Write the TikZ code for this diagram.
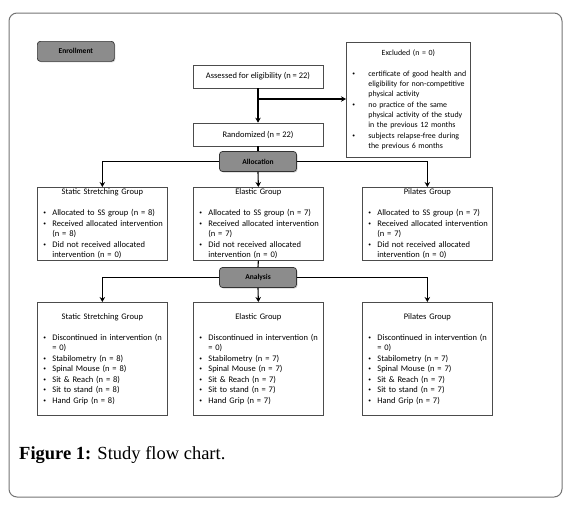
\documentclass[tikz,border=0pt]{standalone}
\usepackage{fontspec}
\setmainfont{Carlito}
\newfontfamily\capfont{Liberation Serif}
\usetikzlibrary{arrows.meta,shadows}

\newcommand\dotb{\raisebox{0.25ex}{\fontsize{5.5}{6}\selectfont\textbullet}}
\newcommand\bl[1]{\mbox{\makebox[9pt][l]{\dotb}#1}}
\newcommand\ct[1]{\mbox{\hspace*{9pt}#1}}
\newcommand\bx[1]{\mbox{\makebox[16pt][l]{\dotb}#1}}
\newcommand\cx[1]{\mbox{\hspace*{16pt}#1}}

\tikzset{
  txtfont/.style={font=\fontsize{8.5}{10.5}\selectfont},
  box/.style={draw=black!70, line width=0.7pt, fill=white, txtfont,
    drop shadow={shadow xshift=1pt, shadow yshift=-1pt, opacity=0.35}},
  grpbox/.style={box, anchor=north west, inner xsep=6pt, inner ysep=0pt,
    text width=118pt, minimum width=130pt, align=left},
  simplebox/.style={box, minimum width=130pt, minimum height=23pt, inner sep=0pt},
  phase/.style={draw=black!80, line width=0.7pt, fill=black!45, rounded corners=3pt,
    minimum width=77pt, minimum height=20pt, inner sep=0pt,
    font=\bfseries\fontsize{7.5}{9}\selectfont,
    drop shadow={shadow xshift=1pt, shadow yshift=-1pt, opacity=0.35}},
  conn/.style={line width=1.1pt, black},
  arr/.style={conn, -{Stealth[length=5pt,width=5.5pt]}}
}

\begin{document}
\begin{tikzpicture}[x=1pt,y=-1pt]
\useasboundingbox (0,0) rectangle (570,504);
% outer frame
\draw[draw=black!55, line width=1pt, rounded corners=8pt] (9,13) rectangle (562,497);

% phase labels
\node[phase, anchor=north west] (enr) at (37,41) {Enrollment};
\node[phase] (alloc) at (258,161.5) {Allocation};
\node[phase] (anal) at (258,277.5) {Analysis};

% enrollment boxes
\node[simplebox] (assess) at (258,76.5) {Assessed for eligibility (n = 22)};
\node[simplebox] (rand) at (258,134.5) {Randomized (n = 22)};

\node[box, anchor=north west, inner xsep=6pt, inner ysep=0pt, text width=112pt,
  minimum width=124pt, minimum height=115pt, align=left,
  font=\fontsize{7.9}{10.3}\selectfont] (excl) at (346,42) {%
{\centering Excluded (n = 0)\par}
\mbox{}\\
\bx{certificate of good health and}\\
\cx{eligibility for non-competitive}\\
\cx{physical activity}\\
\bx{no practice of the same}\\
\cx{physical activity of the study}\\
\cx{in the previous 12 months}\\
\bx{subjects relapse-free during}\\
\cx{the previous 6 months}};

% allocation row
\node[grpbox, minimum height=73pt] (ss1) at (37,187) {%
{\centering Static Stretching Group\par}
\mbox{}\\
\bl{Allocated to SS group (n = 8)}\\
\bl{Received allocated intervention}\\
\ct{(n = 8)}\\
\bl{Did not received allocated}\\
\ct{intervention (n = 0)}};

\node[grpbox, minimum height=73pt] (el1) at (193,187) {%
{\centering Elastic Group\par}
\mbox{}\\
\bl{Allocated to SS group (n = 7)}\\
\bl{Received allocated intervention}\\
\ct{(n = 7)}\\
\bl{Did not received allocated}\\
\ct{intervention (n = 0)}};

\node[grpbox, minimum height=73pt] (pi1) at (362,187) {%
{\centering Pilates Group\par}
\mbox{}\\
\bl{Allocated to SS group (n = 7)}\\
\bl{Received allocated intervention}\\
\ct{(n = 7)}\\
\bl{Did not received allocated}\\
\ct{intervention (n = 0)}};

% analysis row
\node[grpbox, minimum height=113pt] (ss2) at (37,302) {%
{\centering Static Stretching Group\par}
\mbox{}\\
\bl{Discontinued in intervention (n}\\
\ct{= 0)}\\
\bl{Stabilometry (n = 8)}\\
\bl{Spinal Mouse (n = 8)}\\
\bl{Sit \& Reach (n = 8)}\\
\bl{Sit to stand (n = 8)}\\
\bl{Hand Grip (n = 8)}};

\node[grpbox, minimum height=113pt] (el2) at (193,302) {%
{\centering Elastic Group\par}
\mbox{}\\
\bl{Discontinued in intervention (n}\\
\ct{= 0)}\\
\bl{Stabilometry (n = 7)}\\
\bl{Spinal Mouse (n = 7)}\\
\bl{Sit \& Reach (n = 7)}\\
\bl{Sit to stand (n = 7)}\\
\bl{Hand Grip (n = 7)}};

\node[grpbox, minimum height=113pt] (pi2) at (362,302) {%
{\centering Pilates Group\par}
\mbox{}\\
\bl{Discontinued in intervention (n}\\
\ct{= 0)}\\
\bl{Stabilometry (n = 7)}\\
\bl{Spinal Mouse (n = 7)}\\
\bl{Sit \& Reach (n = 7)}\\
\bl{Sit to stand (n = 7)}\\
\bl{Hand Grip (n = 7)}};

% connectors
\coordinate (br) at (258,99);
\draw[arr] (assess.south) -- (rand.north);
\draw[arr] (br) -- (br -| excl.west);
\draw[conn] (rand.south) -- (alloc.north);
\draw[arr] (alloc.west) -| (ss1.north);
\draw[arr] (alloc.east) -| (pi1.north);
\draw[arr] (alloc.south) -- (el1.north);
\draw[conn] (el1.south) -- (anal.north);
\draw[arr] (anal.west) -| (ss2.north);
\draw[arr] (anal.east) -| (pi2.north);
\draw[arr] (anal.south) -- (el2.north);

% caption
\node[anchor=base west, inner sep=0pt, font=\capfont\fontsize{18.5}{21}\selectfont] (cap) at (19,459)
  {\textbf{Figure 1:} Study flow chart.};
\end{tikzpicture}
\end{document}
